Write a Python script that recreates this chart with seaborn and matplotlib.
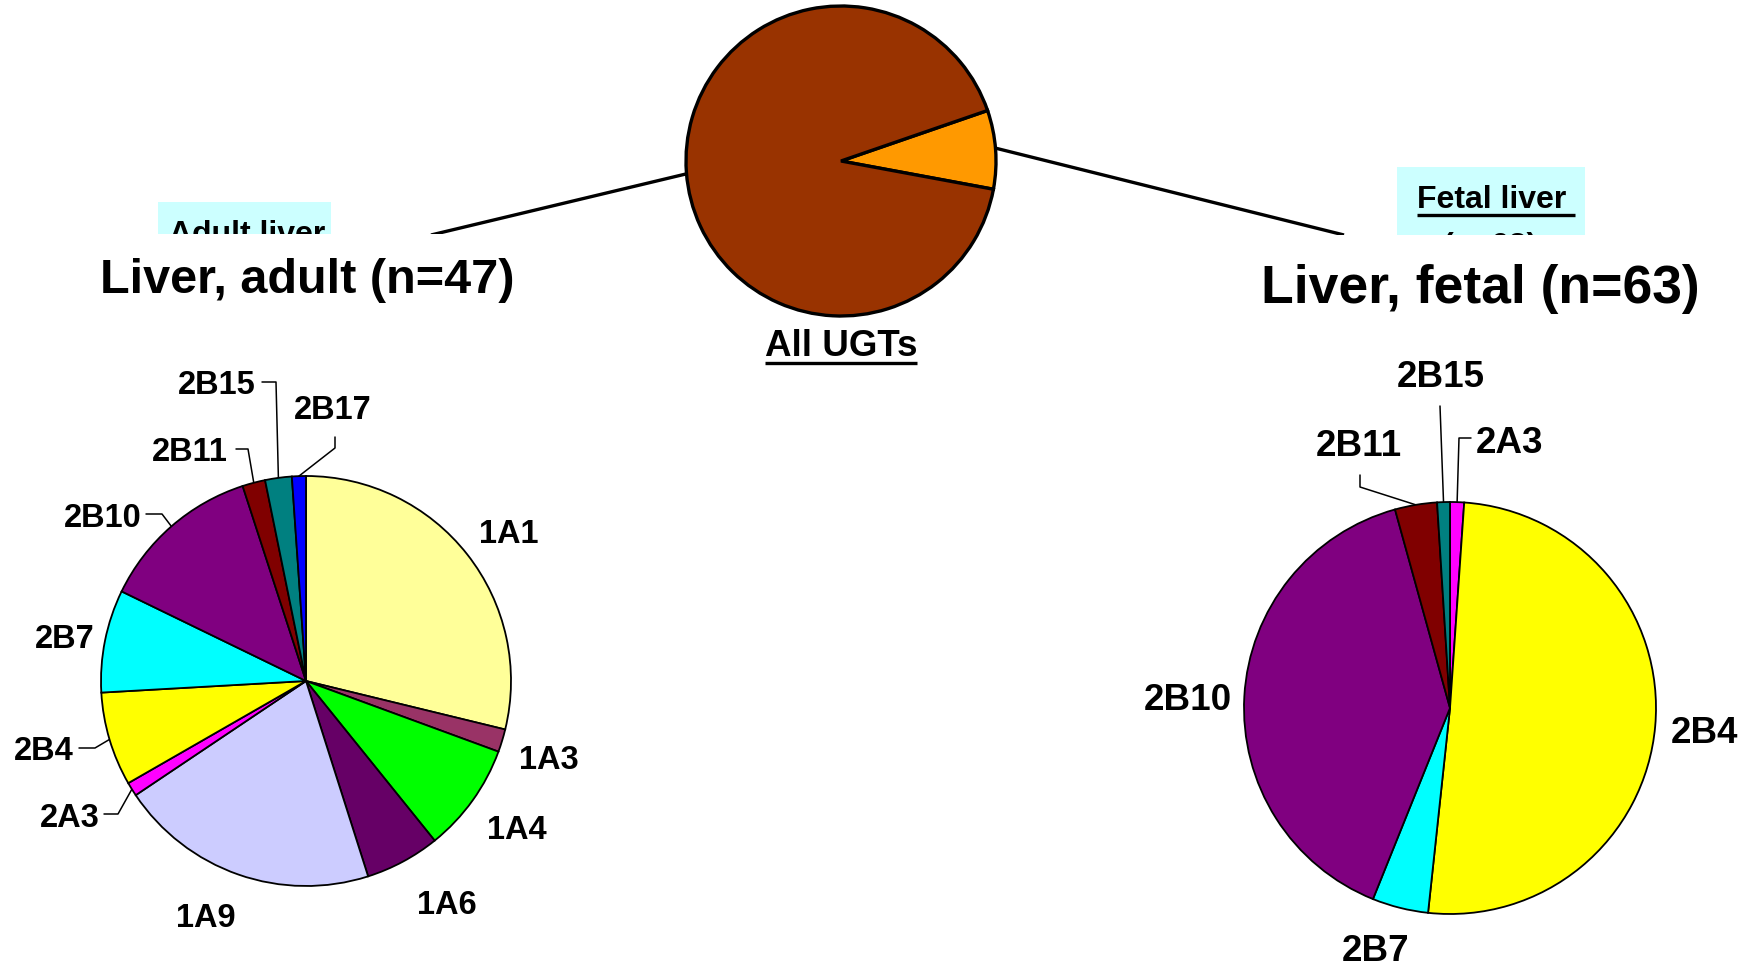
import matplotlib
matplotlib.use("Agg")
import matplotlib.pyplot as plt
import seaborn as sns
import numpy as np
from matplotlib.patches import Rectangle

sns.set_theme(style="white")
plt.rcParams['font.family'] = ['Liberation Sans', 'DejaVu Sans']
plt.rcParams['font.weight'] = 'bold'
plt.rcParams['text.color'] = 'black'

# ---- data -------------------------------------------------------------
overview_groups = ["Fetal liver", "Adult liver"]
overview_share = [8.2, 91.8]

adult_isoforms = ["1A1", "1A3", "1A4", "1A6", "1A9", "2A3",
                  "2B4", "2B7", "2B10", "2B11", "2B15", "2B17"]
adult_share = [28.8, 1.8, 8.6, 5.9, 20.5, 1.1, 7.4, 8.1, 12.8, 1.8, 2.1, 1.1]

fetal_isoforms = ["2A3", "2B4", "2B7", "2B10", "2B11", "2B15"]
fetal_share = [1.1, 50.6, 4.4, 39.6, 3.3, 1.0]

adult_title = "Liver, adult (n=47)"
fetal_title = "Liver, fetal (n=63)"

# ---- styling ----------------------------------------------------------
isoform_colors = {
    "1A1": "#FFFF99", "1A3": "#993366", "1A4": "#00FF00", "1A6": "#660066",
    "1A9": "#CCCCFF", "2A3": "#FF00FF", "2B4": "#FFFF00", "2B7": "#00FFFF",
    "2B10": "#800080", "2B11": "#800000", "2B15": "#008080", "2B17": "#0000FF",
}
overview_colors = ["#FF9900", "#993300"]

W, H, DPI = 1756, 968, 100
fig = plt.figure(figsize=(W / DPI, H / DPI), dpi=DPI)
fig.patch.set_facecolor("white")

# overlay in pixel units (y downwards) for titles, boxes and leader lines
ov = fig.add_axes([0, 0, 1, 1], zorder=0)
ov.set_xlim(0, W)
ov.set_ylim(H, 0)
ov.axis("off")


def em(pt):
    return pt * DPI / 72.0


def put(text, cx, cy, size, z=5, **kw):
    """Place text so that its cap height is centred on (cx, cy)."""
    return ov.text(cx, cy + 0.716 * em(size) / 2, text, fontsize=size, color="black",
                   fontweight="bold", ha="center", va="baseline", zorder=z, **kw)


def pie_axes(cx, cy, r, pad=1.04):
    R = r * pad
    ax = fig.add_axes([(cx - R) / W, (H - cy - R) / H, 2 * R / W, 2 * R / H], zorder=2)
    ax.set_facecolor("none")
    return ax, pad


def rim_point(ax, wedge):
    ang = np.deg2rad((wedge.theta1 + wedge.theta2) / 2)
    x, y = ax.transData.transform((np.cos(ang), np.sin(ang)))
    return x, H - y


# ---- overview pie ("All UGTs") ---------------------------------------
ax0, p0 = pie_axes(841, 161, 155)
ax0.pie(overview_share, colors=overview_colors, startangle=-10.5, counterclock=True,
        radius=1, wedgeprops=dict(edgecolor="black", linewidth=2.4))
ax0.set_xlim(-p0, p0)
ax0.set_ylim(-p0, p0)
ax0.axis("off")

# connectors from the overview pie to the two liver panels
ov.plot([690, 431], [173, 235], color="black", lw=2.4, zorder=2, solid_capstyle="butt")
ov.plot([995, 1344], [148, 235], color="black", lw=2.4, zorder=2, solid_capstyle="butt")

t_all = ov.text(841, 356, "All UGTs", fontsize=26.5, fontweight="bold", color="black",
                ha="center", va="baseline", zorder=5)

# small cyan captions, partly hidden behind the panel titles
ov.add_patch(Rectangle((158, 202), 173, 60, facecolor="#CCFFFF", edgecolor="none", zorder=1))
ov.text(247, 243, "Adult liver", fontsize=23, fontweight="bold", color="black",
        ha="center", va="baseline", zorder=1.5)
ov.add_patch(Rectangle((1397, 167), 188, 90, facecolor="#CCFFFF", edgecolor="none", zorder=1))
t_fetal = ov.text(1492, 208, "Fetal liver", fontsize=23, fontweight="bold", color="black",
                  ha="center", va="baseline", zorder=1.5)
ov.text(1490, 255, "(n=63)", fontsize=23, fontweight="bold", color="black",
        ha="center", va="baseline", zorder=1.5)

# white panels carrying the titles
ov.add_patch(Rectangle((88, 234), 440, 84, facecolor="white", edgecolor="none", zorder=3))
ov.add_patch(Rectangle((1248, 235), 464, 88, facecolor="white", edgecolor="none", zorder=3))
ov.text(307, 293, adult_title, fontsize=35, fontweight="bold", color="black",
        ha="center", va="baseline", zorder=4)
ov.text(1480, 303, fetal_title, fontsize=38.5, fontweight="bold", color="black",
        ha="center", va="baseline", zorder=4)

# ---- adult liver pie -------------------------------------------------
ax1, p1 = pie_axes(306, 681, 205)
w1, _ = ax1.pie(adult_share, colors=[isoform_colors[k] for k in adult_isoforms],
                startangle=90, counterclock=False, radius=1,
                wedgeprops=dict(edgecolor="black", linewidth=1.3))
ax1.set_xlim(-p1, p1)
ax1.set_ylim(-p1, p1)
ax1.axis("off")

adult_label_pos = {
    "1A1": (509, 531), "1A3": (549, 757), "1A4": (517, 827), "1A6": (447, 902),
    "1A9": (206, 915), "2A3": (70, 815), "2B4": (44, 748), "2B7": (65, 636),
    "2B10": (103, 515), "2B11": (190, 449), "2B15": (217, 382), "2B17": (333, 407),
}
adult_leaders = {
    "2B17": [(335, 437), (335, 448)], "2B15": [(262, 382), (276, 382)],
    "2B11": [(236, 449), (248, 449)], "2B10": [(146, 514), (162, 514)],
    "2B4": [(79, 748), (95, 748)], "2A3": [(104, 814), (118, 814)],
}

# ---- fetal liver pie -------------------------------------------------
ax2, p2 = pie_axes(1450, 708, 206)
w2, _ = ax2.pie(fetal_share, colors=[isoform_colors[k] for k in fetal_isoforms],
                startangle=90, counterclock=False, radius=1,
                wedgeprops=dict(edgecolor="black", linewidth=1.3))
ax2.set_xlim(-p2, p2)
ax2.set_ylim(-p2, p2)
ax2.axis("off")

fetal_label_pos = {
    "2A3": (1510, 440), "2B4": (1705, 730), "2B7": (1376, 948),
    "2B10": (1188, 697), "2B11": (1359, 443), "2B15": (1441, 374),
}
fetal_leaders = {
    "2B15": [(1440, 406)], "2A3": [(1471, 438), (1459, 438)],
    "2B11": [(1360, 475), (1360, 487)],
}

for ax, wedges, names, pos, leaders, size in [
    (ax1, w1, adult_isoforms, adult_label_pos, adult_leaders, 23.5),
    (ax2, w2, fetal_isoforms, fetal_label_pos, fetal_leaders, 26.5),
]:
    for wedge, name in zip(wedges, names):
        cx, cy = pos[name]
        put(name, cx, cy, size)
        if name in leaders:
            pts = leaders[name] + [rim_point(ax, wedge)]
            xs, ys = zip(*pts)
            ov.plot(xs, ys, color="black", lw=1.1, zorder=2)

# underlines
fig.canvas.draw()
rend = fig.canvas.get_renderer()
for t, base, lw in [(t_all, 356, 2.4), (t_fetal, 208, 2.4)]:
    bb = t.get_window_extent(rend)
    ov.plot([bb.x0, bb.x1 + (8 if t is t_fetal else 0)], [base + 7, base + 7],
            color="black", lw=lw, zorder=t.get_zorder(), solid_capstyle="butt")

fig.savefig("out.png", dpi=DPI, facecolor="white")
